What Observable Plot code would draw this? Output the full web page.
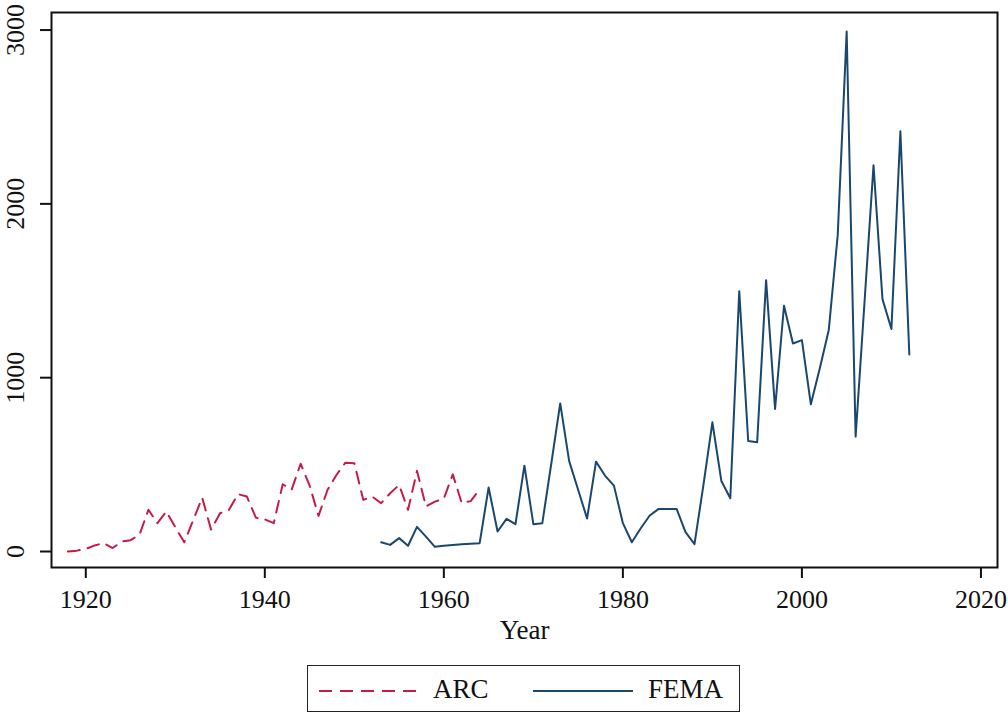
<!DOCTYPE html>
<html>
<head>
<meta charset="utf-8">
<script src="https://cdn.jsdelivr.net/npm/d3@7"></script>
<script src="https://cdn.jsdelivr.net/npm/@observablehq/plot@0.6"></script>
<style>
  html, body { margin: 0; padding: 0; background: white; }
  #wrap { position: relative; width: 1008px; height: 715px; font-family: 'Liberation Serif', serif; }
  #legend { position: absolute; left: 307px; top: 665px; width: 431px; height: 45px; border: 1.6px solid #222; box-sizing: content-box; }
  #legend svg { position: absolute; left: 0; top: 0; }
  .lg { position: absolute; top: 8px; font-size: 27px; color: #111; line-height: 30px; }
</style>
</head>
<body>
<div id="wrap">
  <div id="chart"></div>
  <div id="legend">
    <svg width="431" height="45">
      <line x1="11" x2="110" y1="25" y2="25" stroke="#c81a46" stroke-width="2" stroke-dasharray="13,8"></line>
      <line x1="225" x2="325" y1="25" y2="25" stroke="#1a476f" stroke-width="2"></line>
    </svg>
    <div class="lg" style="left:125px">ARC</div>
    <div class="lg" style="left:340px">FEMA</div>
  </div>
</div>
<script>
const arcYears = d3.range(1918, 1965);
const arcValues = [0,5,15,35,48,20,57,65,97,240,163,230,140,53,180,310,126,220,240,330,316,195,185,163,387,356,505,380,205,354,440,511,508,297,316,278,335,383,240,464,259,287,304,444,278,290,358];
const femaYears = d3.range(1953, 2013);
const femaValues = [53,38,77,33,142,86,27,33,38,42,45,48,368,115,188,157,494,157,163,505,852,520,355,190,517,437,379,163,53,134,207,245,245,245,111,42,383,743,406,306,1498,636,628,1561,820,1414,1197,1216,847,1054,1274,1820,2992,661,1440,2222,1452,1280,2418,1134];
const xTicks = [1920,1940,1960,1980,2000,2020];
const yTicks = [0,1000,2000,3000];

const arc = arcYears.map((year, i) => ({year, value: arcValues[i]}));
const fema = femaYears.map((year, i) => ({year, value: femaValues[i]}));

const chart = Plot.plot({
  width: 1008,
  height: 655,
  marginLeft: 51,
  marginRight: 11,
  marginTop: 12,
  marginBottom: 88,
  x: {domain: [1916.17, 2021.85]},
  y: {domain: [-92, 3101]},
  style: {fontFamily: "'Liberation Serif', serif", fontSize: "26px", color: "#111", background: "white", overflow: "visible"},
  marks: [
    Plot.line(arc, {x: "year", y: "value", stroke: "#c81a46", strokeWidth: 2, strokeDasharray: "12,8"}),
    Plot.line(fema, {x: "year", y: "value", stroke: "#1a476f", strokeWidth: 2}),
    Plot.frame({stroke: "#111", strokeWidth: 2}),
    Plot.axisX({ticks: xTicks, tickSize: 11, tickPadding: 11, tickFormat: d => String(d), label: null, strokeWidth: 2}),
    Plot.axisY({ticks: yTicks, tickSize: 11, tickFormat: () => "", label: null, strokeWidth: 2}),
    Plot.text(yTicks, {y: d => d, text: d => String(d), frameAnchor: "left", dx: -36, rotate: -90, textAnchor: "middle", fontSize: 26}),
    Plot.text(["Year"], {text: d => d, frameAnchor: "bottom", dy: 71, fontSize: 27})
  ]
});
document.getElementById("chart").appendChild(chart);
</script>
</body>
</html>
